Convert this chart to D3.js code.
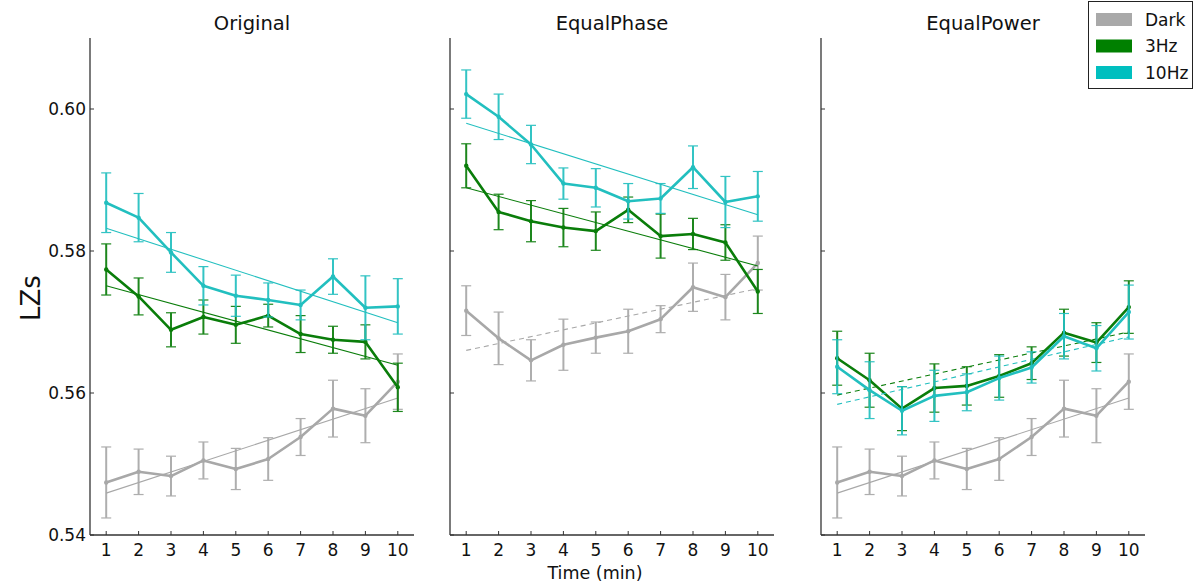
<!DOCTYPE html>
<html>
<head>
<meta charset="utf-8">
<script src="https://cdn.jsdelivr.net/npm/d3@7"></script>
<style>
  html, body { margin: 0; padding: 0; background: #fff; }
  svg { display: block; font-family: "DejaVu Sans", sans-serif; }
</style>
</head>
<body>
<svg id="chart" width="1194" height="585"></svg>
<script>
// Time points (minutes)
const minutes = [1, 2, 3, 4, 5, 6, 7, 8, 9, 10];
const yTicks = [0.54, 0.56, 0.58, 0.60];
const conditions = ["Original", "EqualPhase", "EqualPower"];
const seriesNames = ["Dark", "3Hz", "10Hz"];
const seriesColors = { "Dark": "#a8a8a8", "3Hz": "#0a7d0a", "10Hz": "#22bfbf" };
const legendColors = { "Dark": "#a9a9a9", "3Hz": "#008000", "10Hz": "#00bfbf" };

// Mean LZs per minute
const darkMean      = [0.5474, 0.5489, 0.5483, 0.5505, 0.5493, 0.5507, 0.5538, 0.5578, 0.5568, 0.5616];
const darkErr       = [0.0050, 0.0032, 0.0028, 0.0026, 0.0029, 0.0030, 0.0026, 0.0040, 0.0038, 0.0039];
const origHz3Mean   = [0.5774, 0.5736, 0.5689, 0.5707, 0.5696, 0.5709, 0.5683, 0.5675, 0.5672, 0.5608];
const origHz3Err    = [0.0036, 0.0026, 0.0024, 0.0024, 0.0026, 0.0016, 0.0026, 0.0019, 0.0024, 0.0034];
const origHz10Mean  = [0.5868, 0.5847, 0.5798, 0.5751, 0.5737, 0.5731, 0.5724, 0.5764, 0.5720, 0.5722];
const origHz10Err   = [0.0042, 0.0034, 0.0028, 0.0027, 0.0029, 0.0024, 0.0021, 0.0025, 0.0045, 0.0039];
const phaseDarkMean = [0.5716, 0.5677, 0.5646, 0.5668, 0.5678, 0.5687, 0.5704, 0.5749, 0.5735, 0.5783];
const phaseDarkErr  = [0.0035, 0.0037, 0.0029, 0.0036, 0.0022, 0.0031, 0.0019, 0.0034, 0.0032, 0.0038];
const phaseHz3Mean  = [0.5920, 0.5855, 0.5842, 0.5833, 0.5828, 0.5858, 0.5821, 0.5824, 0.5812, 0.5743];
const phaseHz3Err   = [0.0031, 0.0025, 0.0029, 0.0027, 0.0027, 0.0018, 0.0031, 0.0022, 0.0025, 0.0031];
const phaseHz10Mean = [0.6021, 0.5989, 0.5950, 0.5895, 0.5889, 0.5870, 0.5874, 0.5918, 0.5869, 0.5877];
const phaseHz10Err  = [0.0034, 0.0032, 0.0027, 0.0022, 0.0027, 0.0025, 0.0021, 0.0030, 0.0036, 0.0035];
const powerHz3Mean  = [0.5649, 0.5618, 0.5578, 0.5607, 0.5610, 0.5624, 0.5642, 0.5685, 0.5671, 0.5721];
const powerHz3Err   = [0.0038, 0.0038, 0.0031, 0.0034, 0.0027, 0.0030, 0.0023, 0.0033, 0.0028, 0.0037];
const powerHz10Mean = [0.5637, 0.5604, 0.5575, 0.5596, 0.5601, 0.5621, 0.5636, 0.5680, 0.5663, 0.5714];
const powerHz10Err  = [0.0038, 0.0040, 0.0034, 0.0036, 0.0026, 0.0031, 0.0022, 0.0032, 0.0032, 0.0038];

// Linear trend endpoints (value at minute 1, value at minute 10)
const origDarkFit   = [0.5459, 0.5593];
const origHz3Fit    = [0.5751, 0.5639];
const origHz10Fit   = [0.5832, 0.5699];
const phaseDarkFit  = [0.5660, 0.5747];
const phaseHz3Fit   = [0.5889, 0.5779];
const phaseHz10Fit  = [0.5980, 0.5851];
const powerDarkFit  = [0.5459, 0.5593];
const powerHz3Fit   = [0.5597, 0.5686];
const powerHz10Fit  = [0.5584, 0.5679];

// Trend line style per panel: dashed where the trend is not significant
const panels = [
  { title: "Original", left: 90, series: [
    { name: "Dark", mean: darkMean, err: darkErr, fit: origDarkFit, dashed: false },
    { name: "3Hz", mean: origHz3Mean, err: origHz3Err, fit: origHz3Fit, dashed: false },
    { name: "10Hz", mean: origHz10Mean, err: origHz10Err, fit: origHz10Fit, dashed: false } ] },
  { title: "EqualPhase", left: 450, series: [
    { name: "Dark", mean: phaseDarkMean, err: phaseDarkErr, fit: phaseDarkFit, dashed: true },
    { name: "3Hz", mean: phaseHz3Mean, err: phaseHz3Err, fit: phaseHz3Fit, dashed: false },
    { name: "10Hz", mean: phaseHz10Mean, err: phaseHz10Err, fit: phaseHz10Fit, dashed: false } ] },
  { title: "EqualPower", left: 821, series: [
    { name: "Dark", mean: darkMean, err: darkErr, fit: powerDarkFit, dashed: false },
    { name: "3Hz", mean: powerHz3Mean, err: powerHz3Err, fit: powerHz3Fit, dashed: true },
    { name: "10Hz", mean: powerHz10Mean, err: powerHz10Err, fit: powerHz10Fit, dashed: true } ] }
];

const svg = d3.select("#chart");
const panelWidth = 324;
const plotTop = 38, plotBottom = 535;
const y = d3.scaleLinear().domain([0.54, 0.61]).range([plotBottom, plotTop]);
const axisColor = "#333";

panels.forEach((p, pi) => {
  const x = d3.scaleLinear().domain([0.5, 10.5]).range([p.left, p.left + panelWidth]);
  const g = svg.append("g");

  // Spines
  g.append("line").attr("x1", p.left).attr("x2", p.left).attr("y1", plotTop).attr("y2", plotBottom)
    .attr("stroke", axisColor).attr("stroke-width", 1.3);
  g.append("line").attr("x1", p.left).attr("x2", p.left + panelWidth).attr("y1", plotBottom).attr("y2", plotBottom)
    .attr("stroke", axisColor).attr("stroke-width", 1.3);

  // Y ticks
  yTicks.forEach(t => {
    g.append("line").attr("x1", p.left).attr("x2", p.left + 4)
      .attr("y1", y(t)).attr("y2", y(t)).attr("stroke", axisColor).attr("stroke-width", 1);
    if (pi === 0) {
      g.append("text").attr("x", p.left - 4).attr("y", y(t)).attr("dy", "0.35em")
        .attr("text-anchor", "end").attr("font-size", 17).attr("fill", "#111")
        .text(d3.format(".2f")(t));
    }
  });

  // X ticks
  minutes.forEach(m => {
    g.append("line").attr("x1", x(m)).attr("x2", x(m)).attr("y1", plotBottom).attr("y2", plotBottom - 4)
      .attr("stroke", axisColor).attr("stroke-width", 1);
    g.append("text").attr("x", x(m)).attr("y", plotBottom + 21).attr("text-anchor", "middle")
      .attr("font-size", 17).attr("fill", "#111").text(m);
  });

  // Title
  g.append("text").attr("x", p.left + panelWidth / 2).attr("y", 30).attr("text-anchor", "middle")
    .attr("font-size", 19.5).attr("fill", "#111").text(p.title);

  const line = d3.line().x((d, i) => x(minutes[i])).y(d => y(d));

  p.series.forEach(s => {
    const c = seriesColors[s.name];
    // Trend line
    g.append("line")
      .attr("x1", x(minutes[0])).attr("x2", x(minutes[minutes.length - 1]))
      .attr("y1", y(s.fit[0])).attr("y2", y(s.fit[1]))
      .attr("stroke", c).attr("stroke-width", 1.1)
      .attr("stroke-dasharray", s.dashed ? "5,4" : null);

    // Error bars
    const eg = g.append("g").attr("stroke", c).attr("opacity", 0.92);
    s.mean.forEach((v, i) => {
      const cx = x(minutes[i]);
      eg.append("line").attr("x1", cx).attr("x2", cx)
        .attr("y1", y(v - s.err[i])).attr("y2", y(v + s.err[i])).attr("stroke-width", 2);
      [v - s.err[i], v + s.err[i]].forEach(e => {
        eg.append("line").attr("x1", cx - 5).attr("x2", cx + 5)
          .attr("y1", y(e)).attr("y2", y(e)).attr("stroke-width", 1.2);
      });
    });

    // Mean line
    g.append("path").datum(s.mean).attr("d", line)
      .attr("fill", "none").attr("stroke", c).attr("stroke-width", 2.6)
      .attr("stroke-linejoin", "round");
    g.selectAll(null).data(s.mean).enter().append("circle")
      .attr("cx", (d, i) => x(minutes[i])).attr("cy", d => y(d)).attr("r", 2.2).attr("fill", c);
  });
});

// Y label
svg.append("text").attr("transform", "translate(40,298) rotate(-90)")
  .attr("text-anchor", "middle").attr("font-size", 26).attr("fill", "#111").text("LZs");

// X label
svg.append("text").attr("x", 595).attr("y", 579).attr("text-anchor", "middle")
  .attr("font-size", 17.5).attr("fill", "#111").text("Time (min)");

// Legend
const lg = svg.append("g");
lg.append("rect").attr("x", 1088.5).attr("y", 1.5).attr("width", 104).attr("height", 87)
  .attr("fill", "#fff").attr("stroke", "#222").attr("stroke-width", 1);
seriesNames.forEach((n, i) => {
  const yy = 13 + i * 26.5;
  lg.append("rect").attr("x", 1096).attr("y", yy).attr("width", 36).attr("height", 13)
    .attr("fill", legendColors[n]);
  lg.append("text").attr("x", 1145).attr("y", yy + 6.5).attr("dy", "0.36em")
    .attr("font-size", 17).attr("fill", "#111").text(n);
});
</script>
</body>
</html>
